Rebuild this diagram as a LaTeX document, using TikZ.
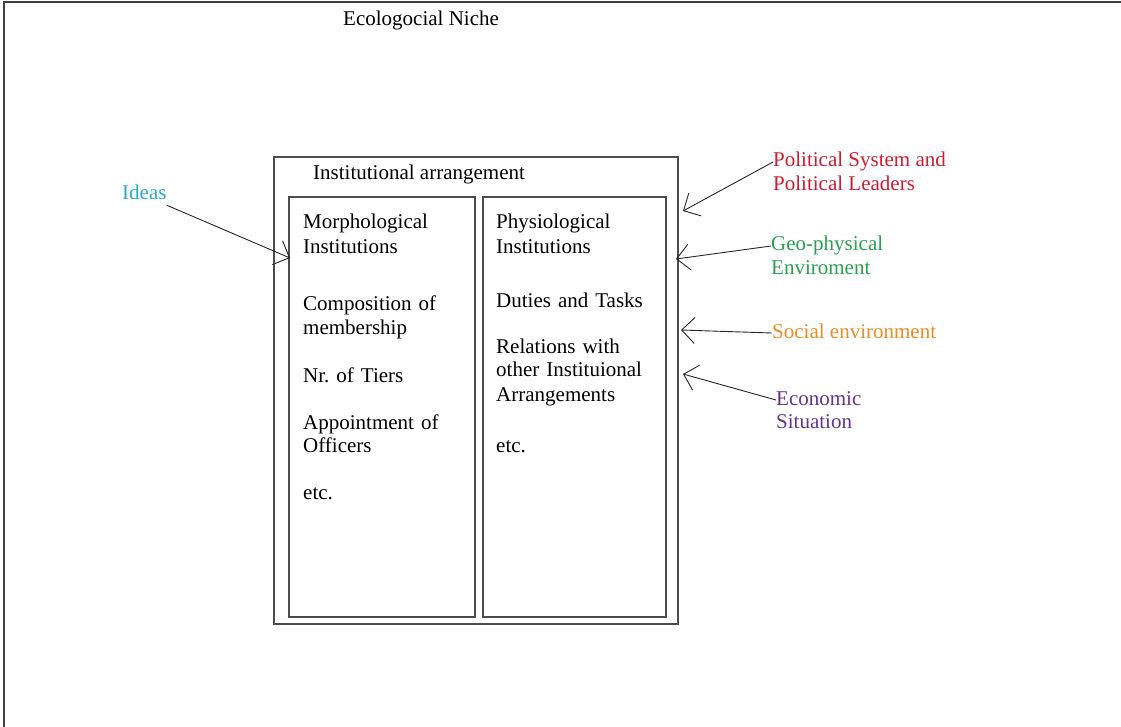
\documentclass[tikz,border=0pt]{standalone}
\usepackage{fontspec}
\setmainfont{Liberation Serif}
\frenchspacing
\usetikzlibrary{positioning}
\usetikzlibrary{arrows.meta}
\definecolor{ideascol}{RGB}{40,170,200}
\definecolor{polcol}{RGB}{200,30,50}
\definecolor{geocol}{RGB}{40,160,80}
\definecolor{soccol}{RGB}{230,140,40}
\definecolor{ecocol}{RGB}{100,50,140}
\tikzset{box/.style={rectangle,draw=black!70,line width=1.2pt,inner sep=0pt},
  txt/.style={inner sep=0pt,text height=15pt,text depth=5pt,anchor=west,font=\fontsize{21}{24}\selectfont},
  col/.style={txt,text width=160pt,align=left},
  pointer/.style={draw=black!85,line width=0.9pt,-{Straight Barb[length=13pt,width=26pt]}},}

\begin{document}
\begin{tikzpicture}[x=1pt,y=-1pt]
      \useasboundingbox (0,0) rectangle (1121,727);
      \draw[black!75,line width=1.5pt] (4,727) -- (4,2) -- (1121,2);
      \node[txt] (niche) at (343,21) {Ecologocial Niche};

      \node[box,minimum width=404pt,minimum height=467pt] (arr) at (476,390.5) {};
      \node[box,minimum width=186pt,minimum height=420pt] (morph) at (382,407) {};
      \node[box,minimum width=183pt,minimum height=420pt] (phys) at (574.5,407) {};
      \node[txt] (arrtitle) at (313,175) {Institutional arrangement};

      % left column
      \node[col] (m1) at (303,224) {Morphological};
      \node[col] (m2) [below=4pt of m1] {Institutions};
      \node[col] (m3) [below=37pt of m2] {Composition of};
      \node[col] (m4) [below=3pt of m3] {membership};
      \node[col] (m5) [below=28pt of m4] {Nr. of Tiers};
      \node[col] (m6) [below=26pt of m5] {Appointment of};
      \node[col] (m7) [below=3pt of m6] {Officers};
      \node[col] (m8) [below=27pt of m7] {etc.};

      % right column
      \node[col] (p1) at (496,224) {Physiological};
      \node[col] (p2) [below=4pt of p1] {Institutions};
      \node[col] (p3) [below=34pt of p2] {Duties and Tasks};
      \node[col] (p4) [below=25pt of p3] {Relations with};
      \node[col] (p5) [below=3pt of p4] {other Instituional};
      \node[col] (p6) [below=4pt of p5] {Arrangements};
      \node[col] (p7) [below=31pt of p6] {etc.};

      % outside factors
      \node[txt,text=ideascol] (ideas) at (122,195) {Ideas};
      \node[txt,text=polcol] (pol1) at (773,162) {Political System and};
      \node[txt,text=polcol] (pol2) [below=3pt of pol1.south west,anchor=north west] {Political Leaders};
      \node[txt,text=geocol] (geo1) at (771,246) {Geo-physical};
      \node[txt,text=geocol] (geo2) [below=3pt of geo1.south west,anchor=north west] {Enviroment};
      \node[txt,text=soccol] (soc) at (772,333) {Social environment};
      \node[txt,text=ecocol] (eco1) at (776,400) {Economic};
      \node[txt,text=ecocol] (eco2) [below=3pt of eco1.south west,anchor=north west] {Situation};

      \coordinate (ideastip) at (290,258);
      \coordinate (poltip) at (683,211);
      \coordinate (geotip) at (676,259);
      \coordinate (soctip) at (681,330);
      \coordinate (ecotip) at (683,374);

      \path
      (ideas.south east) edge[pointer] (ideastip)
      (pol1.west) edge[pointer] (poltip)
      (geo1.west) edge[pointer] (geotip)
      (soc.west) edge[pointer] (soctip)
      (eco1.west) edge[pointer] (ecotip);
    \end{tikzpicture}
\end{document}
